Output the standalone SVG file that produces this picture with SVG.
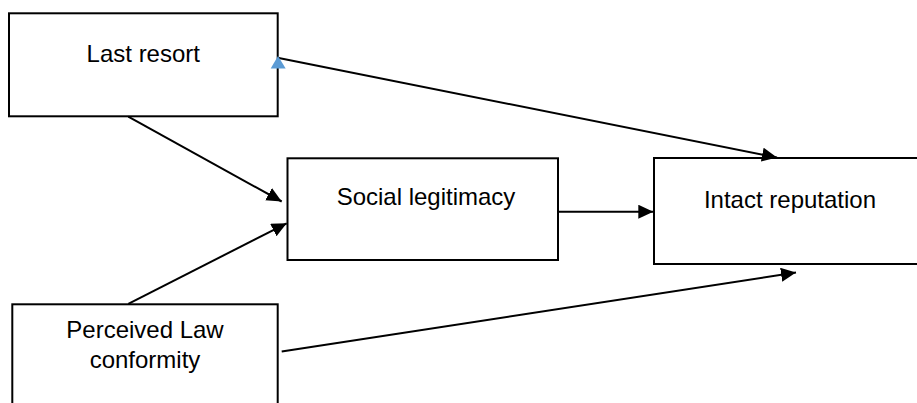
<svg xmlns="http://www.w3.org/2000/svg" width="917" height="403" viewBox="0 0 917 403">
  <style>
    .box { fill: #ffffff; stroke: #000000; stroke-width: 2; }
    .lbl { font-family: "Liberation Sans", Arial, sans-serif; font-size: 24px; fill: #000000; text-anchor: middle; }
    .conn { stroke: #000000; stroke-width: 2; fill: none; marker-end: url(#arrow); }
  </style>
  <defs>
    <marker id="arrow" markerUnits="userSpaceOnUse" markerWidth="16" markerHeight="15" refX="15" refY="7" orient="auto">
      <path d="M0,0 L15,7 L0,14 z" fill="#000000"/>
    </marker>
  </defs>
  <rect width="917" height="403" fill="#ffffff"/>
  <g id="node-last-resort">
    <rect class="box" x="9" y="13.3" width="268.7" height="103"/>
    <text class="lbl" x="143.3" y="62.3">Last resort</text>
  </g>
  <g id="node-social-legitimacy">
    <rect class="box" x="287.5" y="158.3" width="270.5" height="101.7"/>
    <text class="lbl" x="426" y="205">Social legitimacy</text>
  </g>
  <g id="node-intact-reputation">
    <rect class="box" x="654" y="158" width="272" height="106"/>
    <text class="lbl" x="790" y="208.3">Intact reputation</text>
  </g>
  <g id="node-perceived-law">
    <rect class="box" x="12.3" y="304.3" width="265.4" height="120"/>
    <text class="lbl" x="145" y="338.3">Perceived Law</text>
    <text class="lbl" x="145" y="368.3">conformity</text>
  </g>
  <g id="connectors">
    <line class="conn" x1="128.3" y1="116.7" x2="281.7" y2="201.5"/>
    <line class="conn" x1="128.3" y1="303.8" x2="286.7" y2="223.3"/>
    <line class="conn" x1="558" y1="211.7" x2="653.3" y2="211.7"/>
    <line class="conn" x1="277.5" y1="57.7" x2="777" y2="157.5"/>
    <line class="conn" x1="281.7" y1="351.5" x2="796" y2="272.5"/>
    <polygon points="278,56 270.7,68.5 285.7,68.5" fill="#5B9BD5"/>
  </g>
</svg>
